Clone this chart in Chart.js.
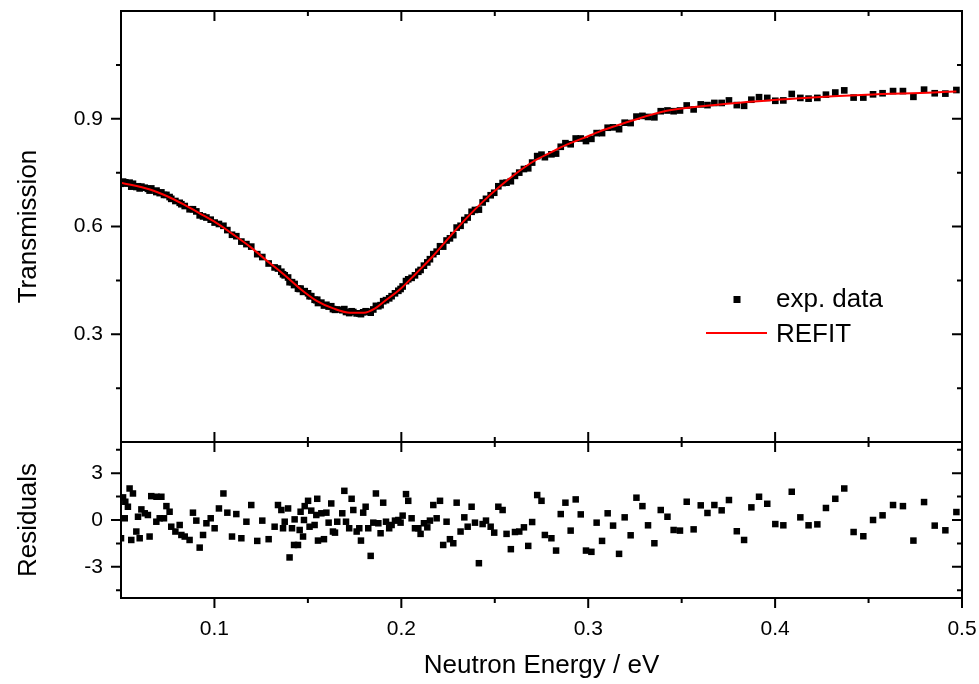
<!DOCTYPE html>
<html>
<head>
<meta charset="utf-8">
<script src="https://cdn.jsdelivr.net/npm/chart.js@4.4.0/dist/chart.umd.min.js"></script>
<style>
body { margin: 0; background: #fff; }
#wrap { width: 979px; height: 684px; }
</style>
</head>
<body>
<div id="wrap"><canvas id="grafico" width="979" height="684"></canvas></div>
<script>
"use strict"

// energia dei punti sperimentali (eV)
const energy = [
    0.0500, 0.0511, 0.0520, 0.0523, 0.0537, 0.0546, 0.0555, 0.0564, 0.0582, 0.0591,
    0.0600, 0.0609, 0.0627, 0.0644, 0.0653, 0.0662, 0.0689, 0.0690, 0.0707, 0.0716,
    0.0730, 0.0743, 0.0760, 0.0769, 0.0791, 0.0814, 0.0823, 0.0841, 0.0867, 0.0885,
    0.0903, 0.0921, 0.0939, 0.0957, 0.0980, 0.1001, 0.1024, 0.1048, 0.1069, 0.1094,
    0.1117, 0.1144, 0.1171, 0.1197, 0.1229, 0.1256, 0.1290, 0.1322, 0.1340, 0.1358,
    0.1367, 0.1376, 0.1394, 0.1402, 0.1415, 0.1426, 0.1429, 0.1447, 0.1456, 0.1461,
    0.1474, 0.1479, 0.1483, 0.1501, 0.1509, 0.1518, 0.1536, 0.1545, 0.1550, 0.1554,
    0.1572, 0.1586, 0.1599, 0.1611, 0.1625, 0.1634, 0.1645, 0.1657, 0.1684, 0.1695,
    0.1704, 0.1721, 0.1734, 0.1743, 0.1761, 0.1775, 0.1784, 0.1796, 0.1809, 0.1823,
    0.1836, 0.1850, 0.1864, 0.1877, 0.1889, 0.1903, 0.1918, 0.1935, 0.1948, 0.1966,
    0.1984, 0.1996, 0.2007, 0.2025, 0.2037, 0.2055, 0.2073, 0.2091, 0.2103, 0.2121,
    0.2139, 0.2153, 0.2171, 0.2189, 0.2207, 0.2224, 0.2242, 0.2260, 0.2278, 0.2296,
    0.2317, 0.2337, 0.2355, 0.2376, 0.2394, 0.2415, 0.2435, 0.2453, 0.2478, 0.2497,
    0.2519, 0.2542, 0.2563, 0.2586, 0.2608, 0.2631, 0.2656, 0.2679, 0.2700, 0.2727,
    0.2750, 0.2768, 0.2803, 0.2828, 0.2853, 0.2878, 0.2906, 0.2933, 0.2960, 0.2988,
    0.3017, 0.3045, 0.3074, 0.3104, 0.3133, 0.3165, 0.3195, 0.3227, 0.3258, 0.3290,
    0.3320, 0.3354, 0.3388, 0.3424, 0.3457, 0.3491, 0.3527, 0.3564, 0.3602, 0.3638,
    0.3675, 0.3714, 0.3753, 0.3795, 0.3834, 0.3873, 0.3914, 0.3958, 0.4001, 0.4044,
    0.4089, 0.4135, 0.4179, 0.4226, 0.4272, 0.4322, 0.4370, 0.4420, 0.4472, 0.4524,
    0.4575, 0.4631, 0.4684, 0.4740, 0.4797, 0.4854, 0.4911, 0.4970
];

const transmission = [
    0.719, 0.725, 0.720, 0.723, 0.720, 0.722, 0.711, 0.719, 0.710, 0.712,
    0.706, 0.711, 0.708, 0.705, 0.700, 0.706, 0.696, 0.700, 0.693, 0.695,
    0.688, 0.688, 0.682, 0.677, 0.671, 0.666, 0.662, 0.657, 0.648, 0.648,
    0.642, 0.631, 0.628, 0.625, 0.619, 0.611, 0.607, 0.602, 0.590, 0.577,
    0.573, 0.558, 0.551, 0.544, 0.523, 0.515, 0.497, 0.486, 0.483, 0.474,
    0.467, 0.464, 0.458, 0.445, 0.445, 0.437, 0.440, 0.427, 0.426, 0.427,
    0.418, 0.419, 0.420, 0.414, 0.406, 0.406, 0.396, 0.395, 0.396, 0.387,
    0.388, 0.380, 0.382, 0.377, 0.378, 0.370, 0.368, 0.369, 0.367, 0.370,
    0.362, 0.359, 0.364, 0.362, 0.358, 0.358, 0.356, 0.361, 0.364, 0.363,
    0.360, 0.369, 0.379, 0.378, 0.381, 0.392, 0.395, 0.400, 0.406, 0.414,
    0.421, 0.426, 0.433, 0.448, 0.453, 0.457, 0.464, 0.474, 0.479, 0.491,
    0.500, 0.509, 0.523, 0.530, 0.545, 0.544, 0.561, 0.567, 0.576, 0.597,
    0.602, 0.618, 0.625, 0.641, 0.646, 0.647, 0.667, 0.677, 0.687, 0.694,
    0.712, 0.721, 0.722, 0.726, 0.741, 0.750, 0.760, 0.762, 0.778, 0.796,
    0.800, 0.793, 0.801, 0.803, 0.822, 0.832, 0.829, 0.845, 0.845, 0.838,
    0.844, 0.860, 0.860, 0.875, 0.876, 0.871, 0.889, 0.888, 0.906, 0.908,
    0.905, 0.904, 0.921, 0.923, 0.921, 0.923, 0.937, 0.926, 0.940, 0.938,
    0.944, 0.944, 0.951, 0.938, 0.936, 0.953, 0.960, 0.958, 0.950, 0.951,
    0.969, 0.958, 0.956, 0.958, 0.967, 0.973, 0.979, 0.959, 0.959, 0.968,
    0.971, 0.977, 0.977, 0.961, 0.981, 0.971, 0.970, 0.980
];

const residuals = [
    -1.17, 1.45, 0.11, 1.17, 0.85, 2.02, -1.28, 1.70, -0.74, 0.21,
    -1.17, 0.68, 0.43, 0.32, -1.06, 1.53, -0.11, 1.49, 0.11, 1.49,
    0.11, 0.89, 0.53, -0.43, -0.74, -0.32, -0.96, -1.06, -1.28, 0.47,
    -0.04, -1.77, -0.96, -0.21, 0.11, -0.53, 0.74, 1.70, 0.47, -1.06,
    0.38, -1.17, -0.11, 0.96, -1.34, -0.04, -1.23, -0.43, 0.96, 0.64,
    -0.53, -0.11, 0.74, -2.40, -0.53, -1.60, 0.04, -1.60, -0.64, 0.53,
    -1.06, 0.00, 0.89, 1.23, -0.43, 0.60, -0.32, 0.32, 1.36, -1.32,
    0.43, -1.23, 0.47, -0.17, 1.06, -0.74, -0.81, -0.11, 0.43, 1.87,
    -0.11, -0.53, 1.36, 0.64, -0.74, -0.53, -1.32, 0.47, 0.85, -0.53,
    -2.30, -0.17, 1.70, -0.21, -0.85, 1.11, -0.11, -0.53, -0.32, -0.04,
    0.00, -0.17, 0.28, 1.66, 1.23, 0.11, -0.53, -0.53, -0.89, -0.21,
    -0.47, -0.04, 0.96, 0.11, 1.23, -1.60, -0.11, -1.23, -1.49, 1.11,
    -0.74, 0.17, -0.43, 0.85, -0.17, -2.77, -0.26, -0.04, -0.43, -0.81,
    0.85, 0.64, -0.89, -1.87, -0.77, -0.74, -0.47, -1.66, -0.13, 1.60,
    1.23, -0.96, -1.17, -1.96, 0.38, 1.11, -0.68, 1.32, 0.36, -1.96,
    -2.04, -0.17, -1.34, 0.43, -0.36, -2.17, 0.17, -0.98, 1.43, 0.89,
    -0.34, -1.49, 0.64, 0.21, -0.64, -0.68, 1.17, -0.60, 0.94, 0.45,
    0.96, 0.62, 1.28, -0.72, -1.28, 0.81, 1.49, 1.04, -0.26, -0.34,
    1.81, 0.17, -0.34, -0.28, 0.77, 1.36, 2.02, -0.77, -1.04, 0.00,
    0.30, 0.96, 0.89, -1.32, 1.15, -0.36, -0.66, 0.51
];

// curva REFIT
const fitEnergy = [0.050, 0.0655, 0.0744, 0.0833, 0.0923, 0.101, 0.110, 0.119, 0.128, 0.137,
    0.1458, 0.1547, 0.1636, 0.1725, 0.180, 0.186, 0.1905, 0.1993, 0.208, 0.217,
    0.226, 0.235, 0.2438, 0.2528, 0.2617, 0.2706, 0.2795, 0.2885, 0.2974, 0.3063,
    0.3152, 0.3223, 0.342, 0.3776, 0.4133, 0.449, 0.4846, 0.497];
const fitTransmission = [0.722, 0.703, 0.685, 0.662, 0.636, 0.610, 0.578, 0.544, 0.505, 0.467,
    0.427, 0.393, 0.372, 0.360, 0.360, 0.372, 0.390, 0.425, 0.470, 0.518,
    0.572, 0.624, 0.670, 0.712, 0.749, 0.781, 0.805, 0.828, 0.846, 0.865,
    0.881, 0.893, 0.922, 0.943, 0.957, 0.967, 0.973, 0.976];

const xTicks = [0.1, 0.2, 0.3, 0.4, 0.5];
const xMinor = [0.15, 0.25, 0.35, 0.45];
const tTicks = [0.3, 0.6, 0.9];
const tMinor = [0.15, 0.45, 0.75, 1.05];
const rTicks = [-3, 0, 3];
const rMinor = [-4.5, -1.5, 1.5, 4.5];

const FONT = "Arial, 'Liberation Sans', sans-serif";

// cornice, tacche e legenda come nel grafico originale
const cornice = {
    id: "cornice",
    afterDatasetsDraw(chart) {
        let ctx = chart.ctx;
        let a = chart.chartArea;
        let sx = chart.scales.x;
        let sT = chart.scales.yT;
        let sR = chart.scales.yR;
        let mid = sT.bottom;
        ctx.save();
        ctx.strokeStyle = "#000";
        ctx.lineWidth = 2;
        ctx.beginPath();
        ctx.rect(a.left, a.top, a.right - a.left, a.bottom - a.top);
        ctx.moveTo(a.left, mid);
        ctx.lineTo(a.right, mid);
        function tick(x1, y1, x2, y2) {
            ctx.moveTo(x1, y1);
            ctx.lineTo(x2, y2);
        }
        for (let v of xTicks) {
            let p = sx.getPixelForValue(v);
            tick(p, a.top, p, a.top + 10);
            tick(p, mid - 10, p, mid + 10);
            tick(p, a.bottom, p, a.bottom + 10);
        }
        for (let v of xMinor) {
            let p = sx.getPixelForValue(v);
            tick(p, a.top, p, a.top + 5);
            tick(p, mid - 5, p, mid + 5);
            tick(p, a.bottom, p, a.bottom + 5);
        }
        for (let v of tTicks) {
            let p = sT.getPixelForValue(v);
            tick(a.left - 10, p, a.left, p);
            tick(a.right - 10, p, a.right, p);
        }
        for (let v of tMinor) {
            let p = sT.getPixelForValue(v);
            tick(a.left - 5, p, a.left, p);
            tick(a.right - 5, p, a.right, p);
        }
        for (let v of rTicks) {
            let p = sR.getPixelForValue(v);
            tick(a.left - 10, p, a.left, p);
            tick(a.right - 10, p, a.right, p);
        }
        for (let v of rMinor) {
            let p = sR.getPixelForValue(v);
            tick(a.left - 5, p, a.left, p);
            tick(a.right - 5, p, a.right, p);
        }
        ctx.stroke();

        // legenda
        ctx.fillStyle = "#000";
        ctx.fillRect(733.5, 296, 7, 7);
        ctx.strokeStyle = "#ff0000";
        ctx.lineWidth = 2;
        ctx.beginPath();
        ctx.moveTo(706, 333);
        ctx.lineTo(767, 333);
        ctx.stroke();
        ctx.font = "26px " + FONT;
        ctx.textBaseline = "alphabetic";
        ctx.textAlign = "left";
        ctx.fillText("exp. data", 776, 307);
        ctx.fillText("REFIT", 776, 342);
        ctx.restore();
    }
};

let puntiT = energy.map(function (e, i) { return { x: e, y: transmission[i] }; });
let puntiR = energy.map(function (e, i) { return { x: e, y: residuals[i] }; });
let curva = fitEnergy.map(function (e, i) { return { x: e, y: fitTransmission[i] }; });

function fissaTicks(lista) {
    return function (scale) {
        scale.ticks = lista.map(function (v) { return { value: v }; });
    };
}

// larghezza fissa degli assi e niente margini automatici
function larghezzaY(s) {
    s.width = 121;
    s.paddingTop = 0;
    s.paddingBottom = 0;
}

let ctx = document.getElementById("grafico").getContext("2d");
let myChart = new Chart(ctx, {
    type: "scatter",
    data: {
        datasets: [
            {
                type: "line",
                label: "REFIT",
                data: curva,
                yAxisID: "yT",
                borderColor: "#ff0000",
                borderWidth: 2,
                pointRadius: 0,
                fill: false,
                cubicInterpolationMode: "monotone"
            },
            {
                label: "exp. data",
                data: puntiT,
                yAxisID: "yT",
                pointStyle: "rect",
                pointRadius: 4.7,
                pointBackgroundColor: "#000",
                pointBorderWidth: 0,
                backgroundColor: "#000"
            },
            {
                label: "Residuals",
                data: puntiR,
                yAxisID: "yR",
                pointStyle: "rect",
                pointRadius: 4.6,
                pointBackgroundColor: "#000",
                pointBorderWidth: 0,
                backgroundColor: "#000"
            }
        ]
    },
    options: {
        responsive: false,
        animation: false,
        devicePixelRatio: 1,
        layout: { padding: { top: 11, right: 17, left: 0, bottom: 0 } },
        plugins: {
            legend: { display: false },
            tooltip: { enabled: false }
        },
        scales: {
            x: {
                type: "linear",
                position: "bottom",
                min: 0.05,
                max: 0.5,
                afterBuildTicks: fissaTicks(xTicks),
                afterFit: function (s) {
                    s.height = 86;
                    s.paddingLeft = 0;
                    s.paddingRight = 0;
                },
                grid: { display: false, drawTicks: false },
                border: { display: false },
                ticks: {
                    color: "#000",
                    font: { family: FONT, size: 21 },
                    padding: 19,
                    maxRotation: 0,
                    autoSkip: false,
                    callback: function (v) { return v.toFixed(1); }
                },
                title: {
                    display: true,
                    text: "Neutron Energy / eV",
                    color: "#000",
                    font: { family: FONT, size: 26 },
                    padding: { top: 0, bottom: 3 }
                }
            },
            yR: {
                type: "linear",
                position: "left",
                stack: "pannelli",
                stackWeight: 156,
                min: -5,
                max: 5,
                afterBuildTicks: fissaTicks(rTicks),
                afterFit: larghezzaY,
                grid: { display: false, drawTicks: false },
                border: { display: false },
                ticks: {
                    color: "#000",
                    font: { family: FONT, size: 21 },
                    padding: 18,
                    callback: function (v) { return String(v); }
                },
                title: {
                    display: true,
                    text: "Residuals",
                    color: "#000",
                    font: { family: FONT, size: 26 },
                    padding: { top: 13, bottom: 0 }
                }
            },
            yT: {
                type: "linear",
                position: "left",
                stack: "pannelli",
                stackWeight: 431,
                min: 0,
                max: 1.2,
                afterBuildTicks: fissaTicks(tTicks),
                afterFit: larghezzaY,
                grid: { display: false, drawTicks: false },
                border: { display: false },
                ticks: {
                    color: "#000",
                    font: { family: FONT, size: 21 },
                    padding: 18,
                    callback: function (v) { return v.toFixed(1); }
                },
                title: {
                    display: true,
                    text: "Transmission",
                    color: "#000",
                    font: { family: FONT, size: 26 },
                    padding: { top: 13, bottom: 0 }
                }
            }
        }
    },
    plugins: [cornice]
});
</script>
</body>
</html>
